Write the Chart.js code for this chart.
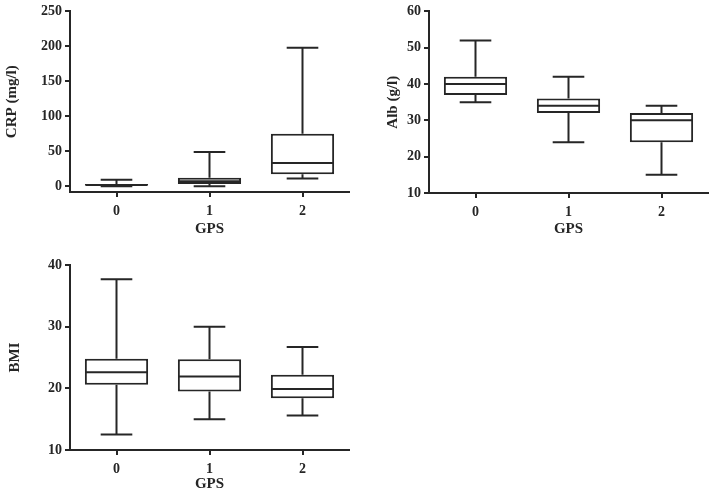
<!DOCTYPE html>
<html>
<head>
<meta charset="utf-8">
<script src="https://cdn.jsdelivr.net/npm/chart.js@4.4.1/dist/chart.umd.min.js"></script>
<style>
  body { margin: 0; background: #fff; }
  canvas { position: absolute; }
</style>
</head>
<body>
<canvas id="chart-crp" width="360" height="240" style="left:0;top:0"></canvas>
<canvas id="chart-alb" width="349" height="240" style="left:360px;top:0"></canvas>
<canvas id="chart-bmi" width="360" height="254" style="left:0;top:240px"></canvas>
<script>
// ---- data ----
const groups = ['0', '1', '2'];

const crpMin = [0, 0, 11];
const crpQ1 = [0.5, 3, 17];
const crpMed = [1.5, 7, 33];
const crpQ3 = [3, 12, 75];
const crpMax = [9, 49, 198];
const crpTicks = [0, 50, 100, 150, 200, 250];

const albMin = [35, 24, 15];
const albQ1 = [37, 32, 24];
const albMed = [40, 34, 30];
const albQ3 = [42, 36, 32];
const albMax = [52, 42, 34];
const albTicks = [10, 20, 30, 40, 50, 60];

const bmiMin = [12.5, 15, 15.6];
const bmiQ1 = [20.6, 19.5, 18.4];
const bmiMed = [22.6, 21.9, 19.9];
const bmiQ3 = [24.8, 24.7, 22.2];
const bmiMax = [37.7, 30, 26.7];
const bmiTicks = [10, 20, 30, 40];

const ink = '#262626';
const tickFont = { family: "'Liberation Serif', 'Times New Roman', serif", size: 14, weight: 'bold' };
const titleFont = { family: "'Liberation Serif', 'Times New Roman', serif", size: 15, weight: 'bold', lineHeight: 1 };

// whiskers, caps and median line, placed with the chart's own scales
const boxPlugin = {
    id: 'boxWhiskers',
    afterDatasetsDraw(chart) {
        const ds = chart.data.datasets[0];
        const meta = chart.getDatasetMeta(0);
        const y = chart.scales.y;
        const ctx = chart.ctx;
        ctx.save();
        ctx.strokeStyle = ink;
        ctx.lineWidth = 2;
        meta.data.forEach((bar, i) => {
            const x = bar.x;
            const half = bar.width / 2;
            const cap = bar.width / 4;
            const yMin = y.getPixelForValue(ds.stats.min[i]);
            const yQ1 = y.getPixelForValue(ds.data[i][0]);
            const yQ3 = y.getPixelForValue(ds.data[i][1]);
            const yMax = y.getPixelForValue(ds.stats.max[i]);
            const yMed = y.getPixelForValue(ds.stats.med[i]);
            ctx.beginPath();
            ctx.moveTo(x, yQ3); ctx.lineTo(x, yMax);
            ctx.moveTo(x - cap, yMax); ctx.lineTo(x + cap, yMax);
            ctx.moveTo(x, yQ1); ctx.lineTo(x, yMin);
            ctx.moveTo(x - cap, yMin); ctx.lineTo(x + cap, yMin);
            ctx.moveTo(x - half + 1, yMed); ctx.lineTo(x + half - 1, yMed);
            ctx.stroke();
        });
        ctx.restore();
    }
};

function boxChart(id, cfg) {
    const axisGrid = { display: true, drawOnChartArea: false, drawTicks: true, tickLength: 5, color: ink, lineWidth: 2, offset: false };
    return new Chart(document.getElementById(id), {
        type: 'bar',
        data: {
            labels: groups,
            datasets: [{
                data: cfg.q1.map((v, i) => [v, cfg.q3[i]]),
                stats: { min: cfg.min, med: cfg.med, max: cfg.max },
                backgroundColor: '#fff',
                borderColor: ink,
                borderWidth: 2,
                borderSkipped: false,
                barPercentage: 0.68,
                categoryPercentage: 1
            }]
        },
        options: {
            responsive: false,
            animation: false,
            layout: { padding: { top: cfg.padTop, right: cfg.padRight, left: 0, bottom: 0 } },
            plugins: { legend: { display: false }, tooltip: { enabled: false } },
            scales: {
                x: {
                    grid: axisGrid,
                    border: { display: true, color: ink, width: 2 },
                    ticks: { color: ink, font: tickFont, padding: 6 },
                    title: { display: true, text: 'GPS', color: ink, font: titleFont, padding: { top: 0, bottom: cfg.xTitlePad } },
                    afterFit: s => { s.height = cfg.xHeight; }
                },
                y: {
                    min: cfg.yMin,
                    max: cfg.yMax,
                    grid: axisGrid,
                    border: { display: true, color: ink, width: 2 },
                    ticks: { color: ink, font: tickFont, padding: 3 },
                    afterBuildTicks: s => { s.ticks = cfg.ticks.map(v => ({ value: v })); },
                    title: { display: true, text: cfg.yTitle, color: ink, font: titleFont, padding: { top: cfg.yTitlePad, bottom: 0 } },
                    afterFit: s => { s.width = cfg.yWidth; }
                }
            }
        },
        plugins: [boxPlugin]
    });
}

boxChart('chart-crp', {
    min: crpMin, q1: crpQ1, med: crpMed, q3: crpQ3, max: crpMax, ticks: crpTicks,
    yMin: -8.4, yMax: 250, yTitle: 'CRP (mg/l)',
    padTop: 7, padRight: 11, yWidth: 70, xHeight: 48, xTitlePad: 3.5, yTitlePad: 4.5
});

boxChart('chart-alb', {
    min: albMin, q1: albQ1, med: albMed, q3: albQ3, max: albMax, ticks: albTicks,
    yMin: 10, yMax: 60, yTitle: 'Alb (g/l)',
    padTop: 7, padRight: 1, yWidth: 69, xHeight: 47, xTitlePad: 3.5, yTitlePad: 25.5
});

boxChart('chart-bmi', {
    min: bmiMin, q1: bmiQ1, med: bmiMed, q3: bmiQ3, max: bmiMax, ticks: bmiTicks,
    yMin: 10, yMax: 40, yTitle: 'BMI',
    padTop: 25, padRight: 11, yWidth: 70, xHeight: 44, xTitlePad: 2, yTitlePad: 7.5
});
</script>
</body>
</html>
